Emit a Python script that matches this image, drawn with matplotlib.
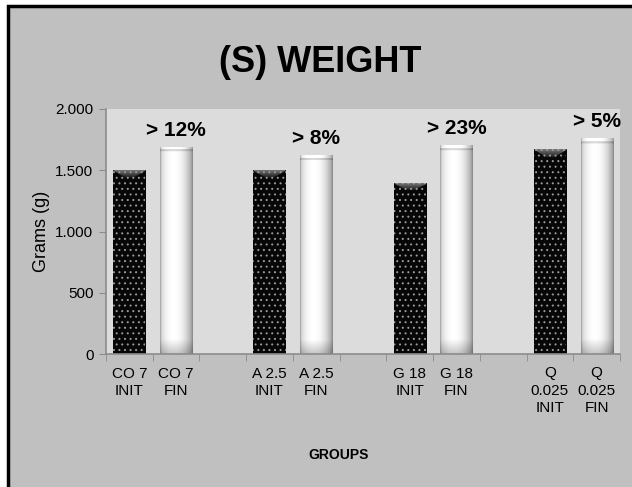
import numpy as np
import matplotlib
matplotlib.use("Agg")
import matplotlib.pyplot as plt
import matplotlib.patches as mpatches
from matplotlib.ticker import FuncFormatter

plt.rcParams['font.family'] = ['Liberation Sans', 'DejaVu Sans']

groups = ["CO 7", "A 2.5", "G 18", "Q\n0.025"]
init_weight = [1500, 1500, 1393, 1673]
fin_weight = [1690, 1624, 1706, 1760]
gains = ["> 12%", "> 8%", "> 23%", "> 5%"]


def shade(ax, bar, img, z):
    x, y = bar.get_x(), bar.get_y()
    w, h = bar.get_width(), bar.get_height()
    im = ax.imshow(img, cmap="gray", vmin=0, vmax=1, extent=(x, x + w, y, y + h),
                   aspect="auto", zorder=z, interpolation="bilinear")
    im.set_clip_path(bar)


def fin_image(rows=200, cols=60):
    u = np.linspace(0, 1, cols)
    prof = 1.0 - 0.40 * np.clip(np.abs(u - 0.42) / 0.58, 0, 1) ** 2.2
    prof[:2] = 0.66
    prof[-2:] = 0.55
    img = np.tile(prof, (rows, 1))
    v = np.linspace(0, 1, rows)[:, None]
    # greyish foot and a light bevel at the top
    img = img * (1 - 0.22 * np.clip((v - 0.93) / 0.07, 0, 1))
    img[:3] = np.minimum(img[:3] + 0.05, 1.0)
    img[3:5] = img[3:5] * 0.85
    return img


def init_image(rows=200, cols=60):
    u = np.linspace(0, 1, cols)
    img = np.full((rows, cols), 0.03)
    # grey bevel at the top of the dark bars
    for r in range(8):
        half = 0.5 - r * 0.05
        mask = np.abs(u - 0.5) < half
        img[r, mask] = 0.45 - r * 0.045
    return img


fig = plt.figure(figsize=(6.32, 4.87), dpi=100)
fig.patch.set_facecolor("white")
frame = mpatches.Rectangle((8 / 632, -0.1), 1.2, 1.1 - 6 / 487, transform=fig.transFigure,
                           facecolor="#c0c0c0", edgecolor="black", linewidth=2.5, zorder=-5)
fig.patches.append(frame)

ax = fig.add_axes([106 / 632, 133 / 487, 514 / 632, 245 / 487])
ax.set_facecolor("#dcdcdc")

pos_init = [3 * i for i in range(len(groups))]
pos_fin = [3 * i + 1 for i in range(len(groups))]

b_init = ax.bar(pos_init, init_weight, width=0.69, color="#050505", zorder=2)
b_fin = ax.bar(pos_fin, fin_weight, width=0.69, color="#f0f0f0", zorder=2)

fimg = fin_image()
iimg = init_image()
for bar in b_fin:
    shade(ax, bar, fimg, 2.5)
for bar in b_init:
    shade(ax, bar, iimg, 2.5)

plt.rcParams['hatch.linewidth'] = 0.7
ax.bar(pos_init, init_weight, width=0.69, facecolor="none", edgecolor="#9a9a9a",
       linewidth=0, hatch="...", zorder=3)

for p, v, g in zip(pos_fin, fin_weight, gains):
    ax.annotate(g, (p, v), xytext=(0, 5), textcoords="offset points", ha="center",
                va="bottom", fontsize=15, fontweight="bold", zorder=4, annotation_clip=False)

labels = []
for g in groups:
    labels += [g + "\nINIT", g + "\nFIN", ""]
labels = labels[:-1]
ax.set_xticks(range(len(labels)))
ax.set_xticklabels(labels, fontsize=11, linespacing=1.3)
ax.set_xticks(np.arange(-0.5, len(labels), 1), minor=True)
ax.tick_params(axis="x", which="major", length=0, pad=9)
ax.tick_params(axis="x", which="minor", length=5, color="#8c8c8c")
ax.set_xlim(-0.5, len(labels) - 0.5)

ax.set_ylim(0, 2000)
ax.set_yticks(np.arange(0, 2001, 500))
ax.yaxis.set_major_formatter(FuncFormatter(lambda v, _: f"{v:,.0f}".replace(",", ".")))
ax.tick_params(axis="y", length=5, color="#8c8c8c", labelsize=11, pad=4)
ax.set_ylabel("Grams (g)", fontsize=13, labelpad=4)

for s in ["top", "right"]:
    ax.spines[s].set_visible(False)
for s in ["left", "bottom"]:
    ax.spines[s].set_color("#8c8c8c")
    ax.spines[s].set_linewidth(1.2)

fig.text(320 / 632, 1 - 63 / 487, "(S) WEIGHT", ha="center", va="center",
         fontsize=26, fontweight="bold")
fig.text(339 / 632, 1 - 455 / 487, "GROUPS", ha="center", va="center",
         fontsize=10, fontweight="bold")

fig.savefig("out.png", dpi=100, facecolor=fig.get_facecolor())
